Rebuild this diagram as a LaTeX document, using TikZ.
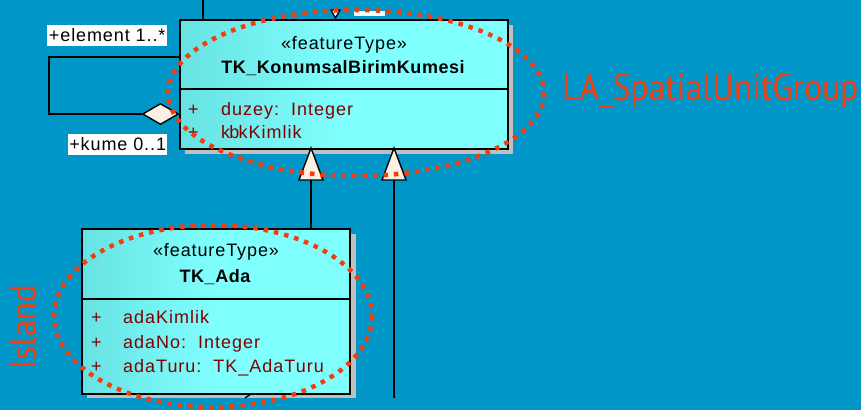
\documentclass[tikz,border=0pt]{standalone}
\usepackage{fontspec}
\setmainfont{Liberation Sans}
\newfontfamily\labelfont{PT Sans}
\usetikzlibrary{shapes.geometric}
\definecolor{bg}{RGB}{0,150,200}
\definecolor{umlfill}{RGB}{128,255,255}
\definecolor{umlleft}{RGB}{104,226,226}
\definecolor{shadowgrey}{RGB}{192,192,192}
\definecolor{attrred}{RGB}{128,0,0}
\definecolor{hilite}{RGB}{245,60,12}
\definecolor{cream}{RGB}{251,240,227}
\tikzset{
  umlbox/.style={draw=black, line width=1.6pt, left color=umlleft, right color=umlfill, middle color=umlfill},
  stereo/.style={anchor=base, font=\fontsize{18}{18}\selectfont\addfontfeature{LetterSpace=5}},
  classname/.style={anchor=base, font=\fontsize{18}{18}\selectfont\bfseries\addfontfeature{LetterSpace=3}},
  attr/.style={anchor=base west, text=attrred, inner sep=0pt, font=\fontsize{18}{18}\selectfont\addfontfeature{LetterSpace=5.5}},
  roletag/.style={fill=white, inner sep=0pt, text=black, font=\fontsize{18}{18}\selectfont\addfontfeature{LetterSpace=5}, minimum height=21pt, anchor=west},
  conn/.style={draw=black, line width=1.6pt},
  gentri/.style={draw=black, line width=1.4pt, fill=cream},
  redoval/.style={draw=hilite, line width=4.5pt, dash pattern=on 4.5pt off 6pt},
  bigtag/.style={text=hilite, font=\labelfont, inner sep=0pt}
}
\begin{document}
\begin{tikzpicture}[x=1pt,y=-1pt]
\fill[bg] (0,0) rectangle (861,410);
\useasboundingbox (0,0) rectangle (861,410);

% fragments at top
\draw[conn] (203,0) -- (203,19);
\fill[white] (354,11) rectangle (385,16);
\draw[black, line width=1.3pt, fill=white] (331,10) -- (335.5,18) -- (340,10) -- cycle;

% top class
\fill[shadowgrey] (185,25) rectangle (513,154);
\node[umlbox, minimum width=328pt, minimum height=129pt, inner sep=0pt, anchor=north west] (kbk) at (179,19) {};
\draw[black, line width=1.4pt] (179,89) -- (507,89);
\node[stereo] (kbkst) at (344,49) {«featureType»};
\node[classname] (kbkname) at (343,73) {TK\_KonumsalBirimKumesi};
\node[attr] at (188,115) {+};
\node[attr] (a1) at (221,115) {duzey:\ \ Integer};
\node[attr] at (188,138) {+};
\node[attr] (a2) at (221,138) {k\kern-0.8pt b\kern-0.8pt kKimlik};

% self association
\coordinate (selfA) at (179,57);
\coordinate (selfB) at (49,57);
\coordinate (selfC) at (49,114);
\node[diamond, draw=black, line width=1.4pt, fill=cream, minimum width=36pt, minimum height=21pt, inner sep=0pt, aspect=1.7] (dia) at (160.5,114) {};
\draw[conn] (selfA) -- (selfB) -- (selfC) -- (dia.west);
\node[roletag, minimum width=120pt] (elem) at (47,35) {+element 1..*\hspace{1pt}};
\node[roletag, minimum width=99pt] (kume) at (68,144) {+kume 0..1};

% island class
\fill[shadowgrey] (87,234) rectangle (356,398);
\node[umlbox, minimum width=268pt, minimum height=165pt, inner sep=0pt, anchor=north west] (ada) at (81,228) {};
\draw[black, line width=1.4pt] (81,299) -- (349,299);
\node[stereo] at (216,256) {«featureType»};
\node[classname] (adaname) at (215,282) {TK\_Ada};
\node[attr] at (91,323) {+};
\node[attr] at (123,323) {adaKimlik};
\node[attr] at (91,348) {+};
\node[attr] at (123,348) {adaNo:\ \ Integer};
\node[attr] at (91,372) {+};
\node[attr] at (123,372) {adaTuru:\ \ TK\_AdaTuru};
\draw[black, line width=1.3pt] (245,398) -- (251,394);

% generalizations
\coordinate (g1top) at (311,148);
\coordinate (g2top) at (394,148);
\coordinate (g2end) at (394,398);
\draw[conn] (311,180) -- (311,228);
\draw[conn] (394,180) -- (g2end);
\draw[gentri] (g1top) -- (323,180) -- (299,180) -- cycle;
\draw[gentri] (g2top) -- (406,180) -- (382,180) -- cycle;

% highlight ovals
\draw[redoval] (356,93) ellipse [x radius=188, y radius=83];
\draw[redoval] (213,316) ellipse [x radius=159, y radius=91];
\node[bigtag, anchor=base west] (sug) at (562,100) {\resizebox{296pt}{27pt}{LA\_SpatialUnitGroup}};
\node[bigtag, rotate=90, anchor=base west] (isl) at (36,370) {\resizebox{85pt}{26pt}{Island}};
\end{tikzpicture}
\end{document}
